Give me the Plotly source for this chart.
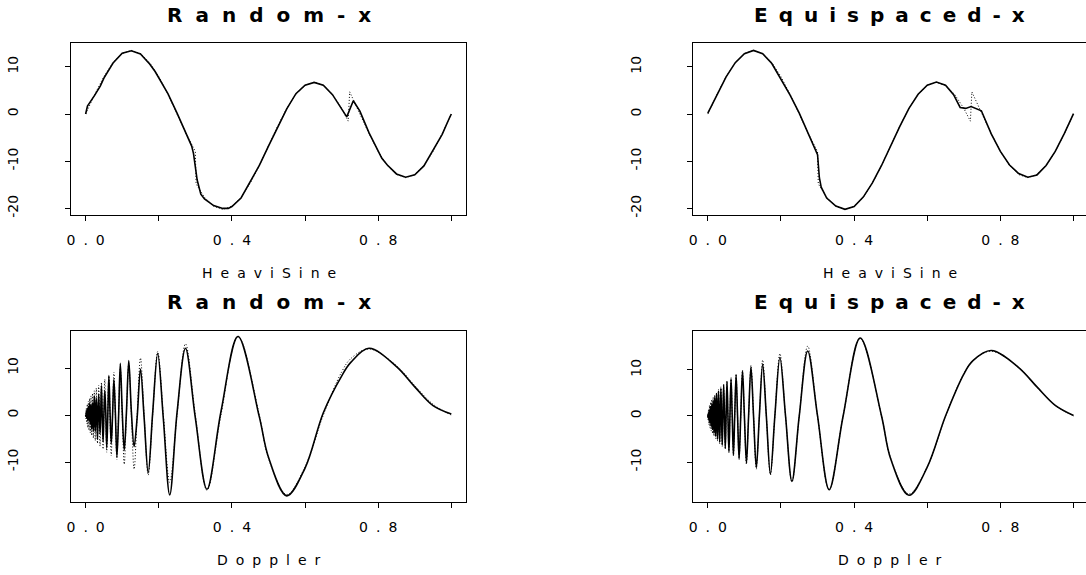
import plotly.graph_objects as go

# ---------------- data ----------------
# HeaviSine: true function (dotted)
hs_true_x = [0, 0.025, 0.05, 0.075, 0.1, 0.125, 0.15, 0.175, 0.2, 0.225, 0.25, 0.275,
             0.3, 0.302, 0.325, 0.35, 0.375, 0.4, 0.425, 0.45, 0.475, 0.5, 0.525, 0.55,
             0.575, 0.6, 0.625, 0.65, 0.675, 0.7, 0.718, 0.722, 0.725, 0.75, 0.775, 0.8,
             0.825, 0.85, 0.875, 0.9, 0.925, 0.95, 0.975, 1.0]
hs_true_y = [0, 4.17, 7.93, 10.91, 12.82, 13.48, 12.82, 10.91, 7.93, 4.17, 0, -4.17,
             -7.93, -14.8, -17.65, -19.56, -20.22, -19.56, -17.65, -14.67, -10.91, -6.74, -2.57, 1.19,
             4.17, 6.08, 6.74, 6.08, 4.17, 1.19, -1.5, 4.7, 4.17, 0, -4.17, -7.93,
             -10.91, -12.82, -13.48, -12.82, -10.91, -7.93, -4.17, 0]

# HeaviSine: estimate, random design (solid)
hs_rand_x = [0, 0.005, 0.025, 0.04, 0.05, 0.075, 0.1, 0.125, 0.15, 0.175, 0.19, 0.2,
             0.225, 0.25, 0.275, 0.29, 0.295, 0.305, 0.315, 0.325, 0.35, 0.375, 0.39, 0.4,
             0.425, 0.45, 0.475, 0.5, 0.525, 0.55, 0.575, 0.6, 0.625, 0.65, 0.675, 0.7,
             0.714, 0.732, 0.75, 0.775, 0.8, 0.81, 0.825, 0.85, 0.875, 0.9, 0.925, 0.95,
             0.975, 0.995, 1.0]
hs_rand_y = [0, 1.7, 4.0, 5.9, 7.6, 10.8, 12.9, 13.4, 12.7, 10.6, 9.0, 7.6,
             4.3, 0.2, -4.0, -6.8, -8.4, -14.0, -17.0, -18.0, -19.4, -20.0, -20.0, -19.6,
             -17.8, -14.5, -10.9, -6.8, -2.7, 1.1, 4.3, 6.1, 6.7, 6.1, 4.1, 0.9,
             -0.6, 2.8, 0.6, -4.0, -7.8, -9.4, -10.8, -12.7, -13.4, -12.9, -11.0, -7.8,
             -4.3, -0.8, 0]

# HeaviSine: estimate, equispaced design (solid)
hs_equi_x = [0, 0.025, 0.05, 0.075, 0.1, 0.125, 0.15, 0.175, 0.2, 0.225, 0.25, 0.275,
             0.29, 0.3, 0.305, 0.31, 0.325, 0.35, 0.375, 0.4, 0.425, 0.45, 0.475, 0.5,
             0.525, 0.55, 0.575, 0.6, 0.625, 0.65, 0.672, 0.69, 0.705, 0.72, 0.735, 0.748,
             0.775, 0.8, 0.825, 0.85, 0.875, 0.9, 0.925, 0.95, 0.975, 1.0]
hs_equi_y = [0.2, 4.2, 7.9, 10.9, 12.8, 13.5, 12.8, 10.7, 7.5, 4.0, 0.2, -4.2,
             -6.6, -8.6, -13.5, -15.5, -17.8, -19.5, -20.2, -19.6, -17.6, -14.6, -10.9, -6.7,
             -2.6, 1.2, 4.2, 6.1, 6.8, 6.1, 4.1, 1.4, 1.2, 1.6, 1.1, 0.7,
             -4.2, -7.9, -10.8, -12.6, -13.4, -12.9, -10.9, -7.9, -4.1, 0.1]

# Doppler: common x positions (extrema and zero crossings)
dop_x = [0, 0.0006, 0.0012, 0.0019, 0.0025, 0.0032, 0.0038, 0.0045, 0.0053, 0.006,
         0.0068, 0.0075, 0.0083, 0.0092, 0.01, 0.0109, 0.0118, 0.0127, 0.0136, 0.0146,
         0.0156, 0.0167, 0.0177, 0.0189, 0.02, 0.0212, 0.0224, 0.0237, 0.025, 0.0264,
         0.0278, 0.0292, 0.0308, 0.0324, 0.034, 0.0357, 0.0375, 0.0394, 0.0413, 0.0433,
         0.0455, 0.0477, 0.05, 0.0524, 0.055, 0.0577, 0.0605, 0.0635, 0.0667, 0.07,
         0.0735, 0.0773, 0.0813, 0.0855, 0.09, 0.0948, 0.1, 0.1056, 0.1115, 0.118,
         0.125, 0.1326, 0.1409, 0.15, 0.16, 0.1711, 0.1833, 0.1971, 0.2125, 0.23,
         0.25, 0.2731, 0.3, 0.3318, 0.37, 0.4167, 0.475, 0.5, 0.55, 0.6,
         0.65, 0.7, 0.725, 0.775, 0.85, 0.9, 0.95, 1.0]
dop_true = [0, -0.83, 0, 1.46, 0, -1.91, 0, 2.29, 0, -2.63,
            0, 2.94, 0, -3.24, 0, 3.53, 0, -3.81, 0, 4.08,
            0, -4.35, 0, 4.62, 0, -4.90, 0, 5.17, 0, -5.45,
            0, 5.73, 0, -6.02, 0, 6.31, 0, -6.61, 0, 6.92,
            0, -7.24, 0, 7.58, 0, -7.93, 0, 8.29, 0, -8.67,
            0, 9.08, 0, -9.51, 0, 9.96, 0, -10.45, 0, 10.97,
            0, -11.53, 0, 12.14, 0, -12.80, 0, 13.52, 0, -14.31,
            0, 15.15, 0, -16.01, 0, 16.76, 0, -9.2, -16.91, -11.03,
            0, 9.16, 12.0, 14.06, 10.51, 6.26, 2.29, 0]
dop_rand = [0, -0.3, 0.1, 0.8, -0.1, -0.7, 0.2, 1.2, 0.1, -1.0,
            0.3, 1.8, -0.2, -1.2, 0.4, 2.4, 0.2, -1.9, -0.3, 2.2,
            0.4, -3.0, -0.2, 2.6, 0.3, -3.4, 0.5, 4.1, -0.4, -3.5,
            0.2, 3.6, 0.6, -5.2, -0.3, 4.4, 0.4, -4.0, 0.5, 6.3,
            -0.6, -5.6, 0.3, 5.2, 0.8, -7.0, -0.5, 8.4, 0.6, -6.1,
            -0.4, 7.6, 0.5, -8.9, -0.7, 11.0, 0.9, -7.5, 0.4, 11.6,
            0.8, -6.7, -0.5, 9.8, -0.6, -12.3, 0.4, 13.1, -0.8, -17.0,
            0.5, 14.2, -0.6, -15.8, 0.7, 16.7, -0.4, -9.0, -17.2, -11.3,
            0.5, 8.3, 11.2, 14.2, 10.3, 6.0, 2.0, 0.2]
dop_equi = [0.3, -0.4, 0.1, 0.7, 0, -1.0, 0, 1.2, 0, -1.5,
            0, 1.8, 0, -2.2, 0, 2.6, 0, -2.9, 0, 3.3,
            0, -3.7, 0, 4.1, 0, -4.4, 0, 4.8, 0, -5.1,
            0, 5.4, 0, -5.7, 0, 6.0, 0, -6.3, 0, 6.7,
            0, -7.0, 0, 7.4, 0, -7.8, 0, 8.1, 0, -8.5,
            0, 8.9, 0, -9.3, 0, 9.8, 0, -10.2, 0, 10.6,
            0, -11.2, 0, 11.2, 0, -12.6, 0, 12.7, 0, -14.2,
            0, 14.1, 0, -16.0, 0, 16.9, 0, -9.3, -17.2, -11.1,
            0, 9.1, 12.0, 14.2, 10.5, 6.3, 2.3, 0.1]

assert len(hs_true_x) == len(hs_true_y)
assert len(hs_rand_x) == len(hs_rand_y)
assert len(hs_equi_x) == len(hs_equi_y)
assert len(dop_x) == len(dop_true) == len(dop_rand) == len(dop_equi)

titles = ["Random-x", "Equispaced-x", "Random-x", "Equispaced-x"]
xlabels = ["HeaviSine", "HeaviSine", "Doppler", "Doppler"]
x_tickvals = [0, 0.2, 0.4, 0.6, 0.8, 1.0]
x_ticklabels = ["0.0", "", "0.4", "", "0.8", ""]
hs_yticks = [-20, -10, 0, 10]
dop_yticks = [-10, 0, 10]

# ---------------- figure ----------------
W, H = 1086, 575
FONT = "DejaVu Sans"

fig = go.Figure()

panels = [
    dict(est_x=hs_rand_x, est_y=hs_rand_y, tr_x=hs_true_x, tr_y=hs_true_y, shape="linear",
         xpx=(71, 466), ypx=(43.3, 215), yr=[-21.4, 14.98], yt=hs_yticks, mirror=True),
    dict(est_x=hs_equi_x, est_y=hs_equi_y, tr_x=hs_true_x, tr_y=hs_true_y, shape="linear",
         xpx=(693.2, 1086), ypx=(43.3, 215), yr=[-21.4, 15.0], yt=hs_yticks, mirror=False),
    dict(est_x=dop_x, est_y=dop_rand, tr_x=dop_x, tr_y=dop_true, shape="spline",
         xpx=(71, 466), ypx=(330.7, 501.7), yr=[-18.45, 17.95], yt=dop_yticks, mirror=True),
    dict(est_x=dop_x, est_y=dop_equi, tr_x=dop_x, tr_y=dop_true, shape="spline",
         xpx=(693.2, 1086), ypx=(330.7, 501.7), yr=[-18.6, 18.5], yt=dop_yticks, mirror=False),
]

PPU = 365.7  # pixels per x unit
LS_TICK = 8
for i, p in enumerate(panels):
    n = "" if i == 0 else str(i + 1)
    xa, ya = "x" + n, "y" + n
    fig.add_trace(go.Scatter(x=p["est_x"], y=p["est_y"], mode="lines", xaxis=xa, yaxis=ya,
                             line=dict(color="black", width=1.6, shape=p["shape"]),
                             showlegend=False, hoverinfo="skip"))
    fig.add_trace(go.Scatter(x=p["tr_x"], y=p["tr_y"], mode="lines", xaxis=xa, yaxis=ya,
                             line=dict(color="black", width=1, dash="1px,2px", shape=p["shape"]),
                             showlegend=False, hoverinfo="skip"))
    x0, x1 = p["xpx"]
    y0, y1 = p["ypx"]
    xr = [-0.04, -0.04 + (x1 - x0) / PPU]
    fig.update_layout(**{
        "xaxis" + n: dict(
            domain=[x0 / W, x1 / W], range=xr, anchor=ya, automargin=False,
            showgrid=False, zeroline=False, showline=True, mirror=True,
            linecolor="black", linewidth=1,
            ticks="outside", ticklen=5, tickcolor="black", tickwidth=1,
            tickmode="array", tickvals=x_tickvals,
            ticktext=[("<span style='letter-spacing:%dpx'>%s</span>" % (LS_TICK, t)) if t else ""
                      for t in x_ticklabels],
            ticklabelshift=LS_TICK // 2, ticklabelstandoff=7,
            tickfont=dict(family=FONT, size=14, color="black"),
        ),
        "yaxis" + n: dict(
            domain=[1 - y1 / H, 1 - y0 / H], range=p["yr"], anchor=xa, automargin=False,
            showgrid=False, zeroline=False, showline=True, mirror=p["mirror"],
            linecolor="black", linewidth=1,
            ticks="outside", ticklen=5, tickcolor="black", tickwidth=1,
            tickmode="array", tickvals=p["yt"], ticktext=[str(v) for v in p["yt"]],
            tickangle=-90, ticklabelstandoff=41,
            tickfont=dict(family=FONT, size=14, color="black"),
        ),
    })
    cx = (x0 + min(x1, 1087.3)) / 2
    # panel title
    t = titles[i]
    ls_t = 13 if t == "Random-x" else 11
    fig.add_annotation(text="<span style='letter-spacing:%dpx'>%s</span>" % (ls_t, t),
                       xref="paper", yref="paper", x=(cx + ls_t / 2) / W,
                       y=1 - (y0 - 42.5) / H, xanchor="center", yanchor="top",
                       showarrow=False,
                       font=dict(family=FONT, size=20, color="black", weight="bold"))
    # x label
    ls_l = 8
    fig.add_annotation(text="<span style='letter-spacing:%dpx'>%s</span>" % (ls_l, xlabels[i]),
                       xref="paper", yref="paper", x=(cx + ls_l / 2) / W,
                       y=1 - (y1 + 58) / H, xanchor="center", yanchor="middle",
                       showarrow=False,
                       font=dict(family=FONT, size=14, color="black"))

fig.update_layout(width=W, height=H, margin=dict(l=0, r=0, t=0, b=0),
                  paper_bgcolor="white", plot_bgcolor="white")

fig.write_html("out.html", config={"displayModeBar": False},
               post_script="document.body.style.margin='0px';")
